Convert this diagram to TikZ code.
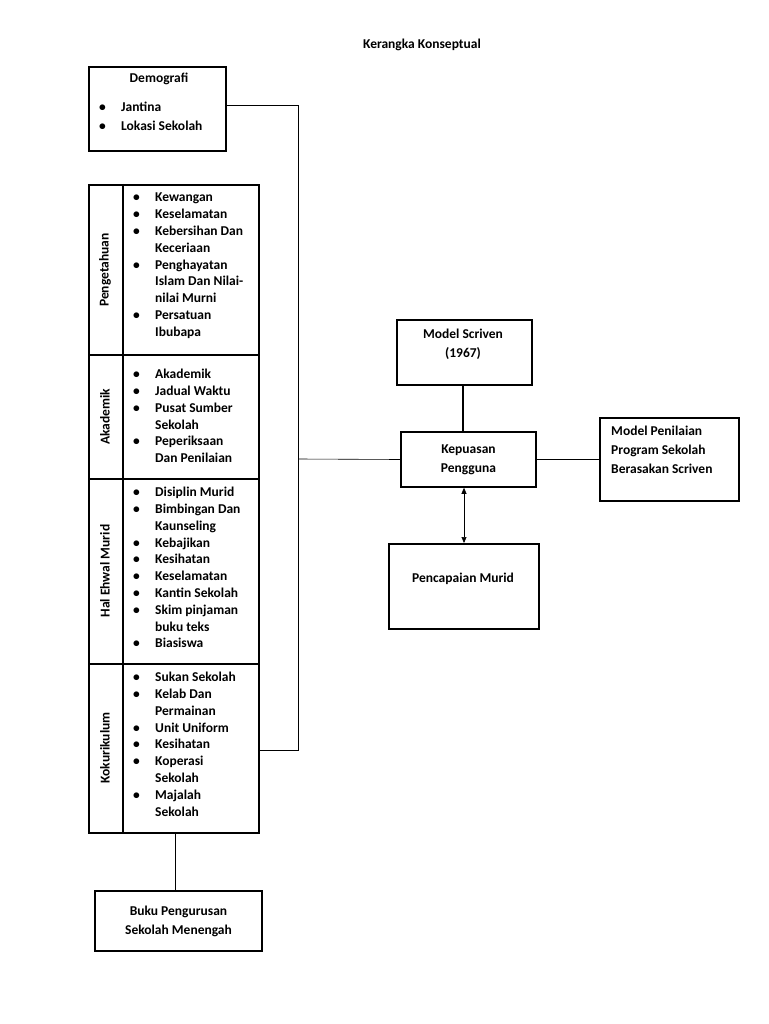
\documentclass[tikz,border=0pt]{standalone}
\usepackage{fontspec}
\setmainfont{Carlito}
\usetikzlibrary{arrows.meta}
\newcommand{\bi}[1]{\makebox[22pt][l]{\textbullet}#1}
\newcommand{\ci}[1]{\makebox[22pt][l]{}#1}
\begin{document}
\begin{tikzpicture}[x=1pt,y=-1pt,
  box/.style={draw,line width=1.6pt},
  ln/.style={line width=0.6pt},
  lst/.style={anchor=north west,inner sep=0,align=left,font=\fontsize{13.5}{16.8}\selectfont\bfseries},
  txt/.style={inner sep=0,align=center,font=\fontsize{13.5}{19}\selectfont\bfseries},
  rot/.style={rotate=90,inner sep=0,font=\fontsize{13.5}{15}\selectfont\bfseries}]
\useasboundingbox (0,0) rectangle (768,1024);
\node[txt] (title) at (422,45) {Kerangka Konseptual};
% Demografi
\node[box,minimum width=137,minimum height=84,anchor=north west,inner sep=0] (demo) at (88,66) {};
\node[txt] (demot) at (159,79) {Demografi};
\node[lst,font=\fontsize{13.5}{19}\selectfont\bfseries] (demol) at (99,102) {\bi{Jantina}\\\bi{Lokasi Sekolah}};
% table
\node[box,minimum width=170,minimum height=648,anchor=north west,inner sep=0] (tab) at (88,184) {};
\draw[box] (123,184) -- (123,832);
\draw[box] (88,355) -- (258,355);
\draw[box] (88,479) -- (258,479);
\draw[box] (88,664) -- (258,664);
\node[rot] (r1) at (105,270) {Pengetahuan};
\node[rot] (r2) at (105,417) {Akademik};
\node[rot] (r3) at (105,571) {Hal Ehwal Murid};
\node[rot] (r4) at (105,748) {Kokurikulum};
\node[lst] (l1) at (133,193) {\bi{Kewangan}\\\bi{Keselamatan}\\\bi{Kebersihan Dan}\\\ci{Keceriaan}\\\bi{Penghayatan}\\\ci{Islam Dan Nilai-}\\\ci{nilai Murni}\\\bi{Persatuan}\\\ci{Ibubapa}};
\node[lst] (l2) at (133,369) {\bi{Akademik}\\\bi{Jadual Waktu}\\\bi{Pusat Sumber}\\\ci{Sekolah}\\\bi{Peperiksaan}\\\ci{Dan Penilaian}};
\node[lst] (l3) at (133,487) {\bi{Disiplin Murid}\\\bi{Bimbingan Dan}\\\ci{Kaunseling}\\\bi{Kebajikan}\\\bi{Kesihatan}\\\bi{Keselamatan}\\\bi{Kantin Sekolah}\\\bi{Skim pinjaman}\\\ci{buku teks}\\\bi{Biasiswa}};
\node[lst] (l4) at (133,672) {\bi{Sukan Sekolah}\\\bi{Kelab Dan}\\\ci{Permainan}\\\bi{Unit Uniform}\\\bi{Kesihatan}\\\bi{Koperasi}\\\ci{Sekolah}\\\bi{Majalah}\\\ci{Sekolah}};
% Buku
\node[box,minimum width=167,minimum height=60,txt] (buku) at (178.5,921) {Buku Pengurusan\\Sekolah Menengah};
\draw[ln] (175,832) -- (175,891);
% right side
\node[box,minimum width=135,minimum height=65,anchor=north west,inner sep=0] (scr) at (396,319) {};
\node[txt] (scrt) at (463,344) {Model Scriven\\(1967)};
\node[box,minimum width=135,minimum height=55,txt] (kep) at (468.5,459.5) {Kepuasan\\Pengguna};
\node[box,minimum width=150,minimum height=85,anchor=north west,inner sep=0] (pen) at (388,543) {};
\node[txt] (pent) at (463,579) {Pencapaian Murid};
\node[box,minimum width=139,minimum height=83,anchor=north west,inner sep=0] (mod) at (599,417) {};
\node[lst,font=\fontsize{13.5}{19}\selectfont\bfseries] (modt) at (611,426) {Model Penilaian\\Program Sekolah\\Berasakan Scriven};
% connectors
\coordinate (c1) at (298,105);
\coordinate (c2) at (298,750);
\coordinate (c3) at (298,459);
\draw[ln] (demo.east |- c1) -- (c1) -- (c2) -- (tab.east |- c2);
\draw[ln] (c3) -- (kep.west);
\draw[ln] (kep.east) -- (mod.west |- kep.east);
\draw[line width=1.4pt] (scr.south -| 463,0) -- (kep.north -| 463,0);
\draw[ln,{Triangle[length=6pt,width=5pt]}-{Triangle[length=6pt,width=5pt]}] (kep.south -| 464,0) -- (pen.north -| 464,0);
\end{tikzpicture}
\end{document}
